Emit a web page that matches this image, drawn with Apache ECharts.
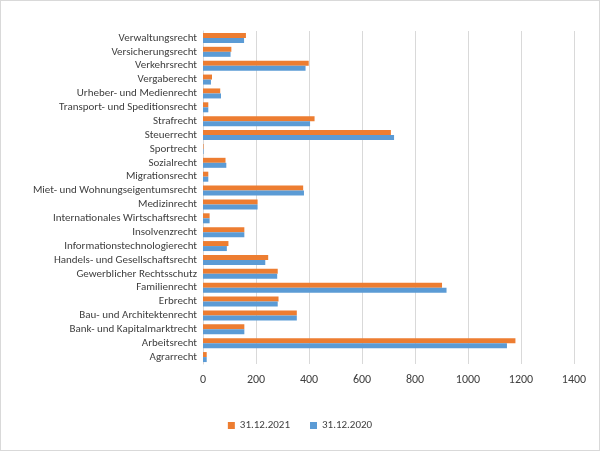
<!DOCTYPE html>
<html><head><meta charset="utf-8">
<script src="https://cdn.jsdelivr.net/npm/echarts@6/dist/echarts.min.js"></script>
<style>html,body{margin:0;padding:0;background:#fff}#c{width:600px;height:451px;box-sizing:border-box;border:1px solid #d9d9d9}</style>
</head><body><div id="c"></div>
<script>
const categories = ["Agrarrecht","Arbeitsrecht","Bank- und Kapitalmarktrecht","Bau- und Architektenrecht","Erbrecht","Familienrecht","Gewerblicher Rechtsschutz","Handels- und Gesellschaftsrecht","Informationstechnologierecht","Insolvenzrecht","Internationales Wirtschaftsrecht","Medizinrecht","Miet- und Wohnungseigentumsrecht","Migrationsrecht","Sozialrecht","Sportrecht","Steuerrecht","Strafrecht","Transport- und Speditionsrecht","Urheber- und Medienrecht","Vergaberecht","Verkehrsrecht","Versicherungsrecht","Verwaltungsrecht"];
const values2021 = [14,1179,156,354,285,902,282,246,96,156,25,206,378,20,85,2,709,421,20,65,34,399,107,162];
const values2020 = [14,1147,156,354,282,919,280,235,90,156,25,206,381,20,88,2,721,404,20,68,30,387,104,155];
const chart = echarts.init(document.getElementById('c'));
const txt = {color:'#404040',fontFamily:'Calibri, Carlito, "Open Sans", sans-serif',fontSize:11};
chart.setOption({
  animation:false,
  grid:{left:202,right:25,top:30,bottom:86,containLabel:false},
  legend:{bottom:14,data:['31.12.2021','31.12.2020'],itemWidth:7,itemHeight:7,icon:'rect',itemGap:20,textStyle:txt},
  xAxis:{type:'value',min:0,max:1400,interval:200,axisLabel:Object.assign({},txt,{fontSize:12,margin:10,formatter:v=>String(v)}),
    splitLine:{lineStyle:{color:'#d9d9d9'}},axisLine:{show:false},axisTick:{show:false}},
  yAxis:{type:'category',data:categories,axisLabel:Object.assign({},txt,{margin:6,interval:0}),
    axisLine:{lineStyle:{color:'#d9d9d9'}},axisTick:{show:false}},
  series:[
    {name:'31.12.2021',type:'bar',data:values2021,barWidth:5,barGap:'0%',itemStyle:{color:'#ED7D31'}},
    {name:'31.12.2020',type:'bar',data:values2020,barWidth:5,barGap:'0%',itemStyle:{color:'#5B9BD5'}}
  ]
});
</script></body></html>
